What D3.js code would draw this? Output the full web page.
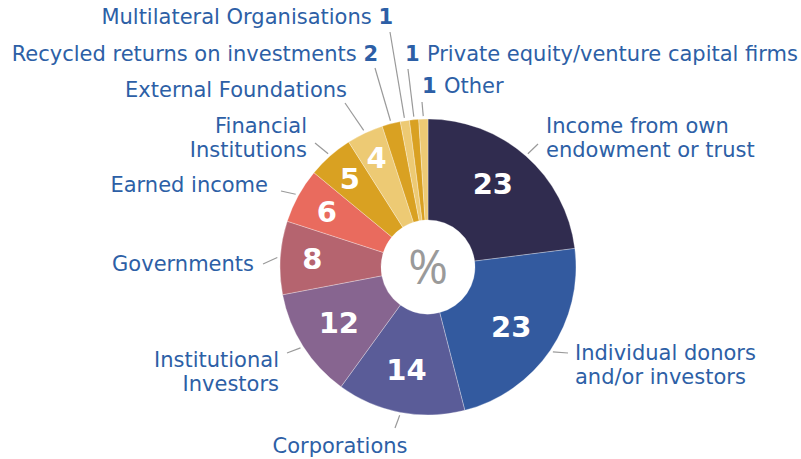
<!DOCTYPE html>
<html><head><meta charset="utf-8">
<script src="https://cdn.jsdelivr.net/npm/d3@7"></script>
<style>
body{margin:0;background:#fff;}
svg{display:block;}
text{font-family:"DejaVu Sans",sans-serif;}
</style></head>
<body>
<script>
const categories = ["Income from own endowment or trust","Individual donors and/or investors","Corporations","Institutional Investors","Governments","Earned income","Financial Institutions","External Foundations","Recycled returns on investments","Multilateral Organisations","Private equity/venture capital firms","Other"];
const values = [23,23,14,12,8,6,5,4,2,1,1,1];
const colors = ["#302c4f","#335a9f","#5a5c98","#876590","#b5646f","#e96b5e","#d9a122","#edca74","#d9a122","#edca74","#d9a122","#edca74"];
const labelLines = [["Income from own","endowment or trust"],["Individual donors","and/or investors"],["Corporations"],["Institutional","Investors"],["Governments"],["Earned income"],["Financial","Institutions"],["External Foundations"],["Recycled returns on investments"],["Multilateral Organisations"],["Private equity/venture capital firms"],["Other"]];
const showInside = [true,true,true,true,true,true,true,true,false,false,false,false];
// layout: leader end point, text position/anchor, number placement, inside label radius & angle offset
const layout = [
 {lx:538,ly:144, tx:546,ty:133, anchor:"start", num:null, lr:106, da:-3.7},
 {lx:568,ly:353, tx:575,ty:360, anchor:"start", num:null, lr:102, da:1.2},
 {lx:395,ly:428, tx:340,ty:453, anchor:"middle", num:null, lr:105, da:1},
 {lx:287,ly:353, tx:279,ty:367, anchor:"end", num:null, lr:105, da:0.5},
 {lx:263,ly:264, tx:254,ty:271, anchor:"end", num:null, lr:116, da:0.8},
 {lx:281,ly:191, tx:268,ty:192, anchor:"end", num:null, lr:115.5, da:0},
 {lx:315,ly:143, tx:307,ty:133, anchor:"end", num:null, lr:118, da:0},
 {lx:345,ly:103, tx:347,ty:97, anchor:"end", num:null, lr:121, da:0},
 {lx:375,ly:68, tx:378,ty:61, anchor:"end", num:"after"},
 {lx:390,ly:32, tx:393,ty:24, anchor:"end", num:"after"},
 {lx:408,ly:69, tx:405,ty:61, anchor:"start", num:"before"},
 {lx:422,ly:102, tx:422,ty:93, anchor:"start", num:"before"}
];

const W=801,H=459, cx=428, cy=267, R=148, r0=47;
const svg=d3.select("body").append("svg").attr("width",W).attr("height",H);
const g=svg.append("g").attr("transform",`translate(${cx},${cy})`);
const data = categories.map((c,i)=>({c,v:values[i],i}));
const pie=d3.pie().value(d=>d.v).sort(null);
const arcs=pie(data);
const arc=d3.arc().innerRadius(r0).outerRadius(R);
g.selectAll("path.s").data(arcs).join("path").attr("class","s")
 .attr("d",arc).attr("fill",d=>colors[d.data.i]).attr("stroke","#fff").attr("stroke-width",0.5).attr("stroke-opacity",0.6);

// inside value labels
g.selectAll("text.v").data(arcs.filter(d=>showInside[d.data.i])).join("text").attr("class","v")
 .attr("transform",d=>{
   const L=layout[d.data.i];
   const a=(d.startAngle+d.endAngle)/2 + L.da*Math.PI/180;
   return `translate(${d3.pointRadial(a,L.lr)})`;
 })
 .attr("text-anchor","middle").attr("dy","0.36em")
 .attr("fill","#fff").attr("font-weight","bold").attr("font-size",29)
 .text(d=>d.data.v);

g.append("text").attr("text-anchor","middle").attr("dy","0.36em").attr("fill","#9a9a9a")
 .attr("font-size",48).style("font-family","'Open Sans',sans-serif").text("%");

// leader lines
arcs.forEach(d=>{
  const a=(d.startAngle+d.endAngle)/2;
  const p=d3.pointRadial(a,R+3);
  const L=layout[d.data.i];
  svg.append("line").attr("x1",cx+p[0]).attr("y1",cy+p[1]).attr("x2",L.lx).attr("y2",L.ly)
   .attr("stroke","#9a9a9a").attr("stroke-width",1.2);
});

// outer labels
const blue="#2d5fa6";
arcs.forEach(d=>{
  const i=d.data.i, L=layout[i];
  const t=svg.append("text").attr("x",L.tx).attr("y",L.ty).attr("text-anchor",L.anchor)
   .attr("fill",blue).attr("font-size",21);
  if(L.num){
    if(L.num==="before"){
      t.append("tspan").attr("font-weight","bold").text(values[i]+" ");
      t.append("tspan").text(labelLines[i][0]);
    } else {
      t.append("tspan").text(labelLines[i][0]+" ");
      t.append("tspan").attr("font-weight","bold").text(values[i]);
    }
  } else {
    labelLines[i].forEach((ln,k)=>{
      t.append("tspan").attr("x",L.tx).attr("dy",k===0?0:24).text(ln);
    });
  }
});
</script>
</body></html>
